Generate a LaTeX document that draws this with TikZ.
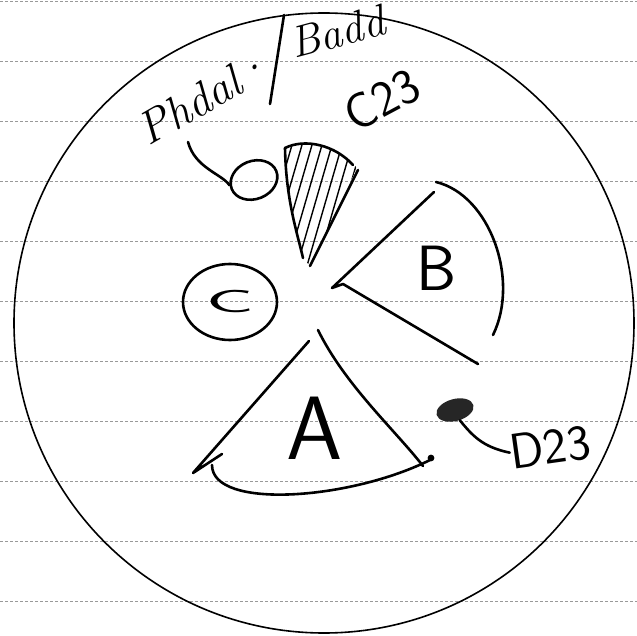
\documentclass[tikz,border=0pt]{standalone}
\usetikzlibrary{shapes.geometric}

\begin{document}
\begin{tikzpicture}[
  x=1pt, y=-1pt,
  ink/.style={line width=2.6pt, line cap=round, line join=round},
  rim/.style={draw, line width=1.6pt},
  hatch/.style={line width=1.4pt, line cap=round},
  rule/.style={black!40, densely dashed, line width=0.8pt},
  hand/.style={inner sep=0pt, font=\sffamily},
  script/.style={inner sep=0pt, font=\itshape}
]

% =========================
% Sheet of ruled paper
% =========================
\useasboundingbox (0,0) rectangle (637,636);
\fill[white] (0,0) rectangle (637,636);
\foreach \yy in {1,61,...,601}
  \draw[rule] (0,\yy) -- (637,\yy);

% outer disc
\node[rim, circle, minimum size=620pt, inner sep=0pt] (disc) at (324,323) {};

% =========================
% Top labels
% =========================
\node[script, rotate=30, font=\itshape\fontsize{46}{46}\selectfont] (phdal) at (204,97) {Phdal·};
\coordinate (slashtop) at (284,15);
\coordinate (slashbot) at (270,104);
\draw[ink] (slashtop) -- (slashbot);
\node[script, rotate=15, font=\itshape\fontsize{44}{44}\selectfont] (badd) at (337,32) {Badd};
\node[hand, rotate=28, font=\sffamily\fontsize{50}{50}\selectfont] (czlabel) at (382,100) {C23};

% small oval with its leader
\node[ink, draw, ellipse, minimum width=48pt, minimum height=38pt, rotate=22] (oval) at (254,180) {};
\coordinate (ovaltail) at (188,142);
\draw[ink] (ovaltail) .. controls (195,168) and (222,174) .. (oval.170);

% =========================
% Hatched piece
% =========================
\begin{scope}
  \clip (285,148) .. controls (305,138) and (335,145) .. (357,168)
        -- (310,266) -- (303,258) .. controls (297,232) and (286,200) .. cycle;
  \foreach \hx in {240,250,...,330}
    \draw[hatch] (\hx,290) -- ++(55,-190);
\end{scope}
\draw[ink] (285,148) .. controls (305,138) and (335,145) .. (353,165);
\draw[ink] (358,170) -- (310,266);
\draw[ink] (285,148) .. controls (286,200) and (297,232) .. (303,258);

% =========================
% Sector B
% =========================
\coordinate (bapex) at (332,288);
\draw[ink] (434,192) -- (bapex) -- (343,284) -- (478,364);
\draw[ink] (436,182) .. controls (490,195) and (520,280) .. (493,335);
\node[hand, font=\sffamily\fontsize{64}{64}\selectfont] (blabel) at (437,268) {B};

% =========================
% Circle C
% =========================
\node[ink, draw, ellipse, minimum width=94pt, minimum height=76pt] (cring) at (230,302) {};
\node[hand, font=\sffamily\fontsize{32}{32}\selectfont] (clabel) at (cring) {\scalebox{2.5}[1]{C}};

% =========================
% Sector A
% =========================
\coordinate (aapex) at (318,330);
\draw[ink] (309,341) -- (193,473) -- (222,454);
\draw[ink] (aapex) .. controls (345,385) and (395,430) .. (423,466);
\draw[ink] (212,465) .. controls (212,510) and (350,500) .. (430,460);
\fill (431,458) circle (3.4);
\node[hand, font=\sffamily\fontsize{90}{90}\selectfont] (alabel) at (315,428) {A};

% =========================
% Blob D23
% =========================
\node[fill=black!85, ellipse, minimum width=38pt, minimum height=22pt, rotate=15] (dblob) at (455,410) {};
\node[hand, rotate=8, font=\sffamily\fontsize{50}{50}\selectfont] (dlabel) at (550,447) {D23};
\draw[ink] (dblob.-80) .. controls (472,435) and (482,447) .. (dlabel.west);

\end{tikzpicture}
\end{document}
